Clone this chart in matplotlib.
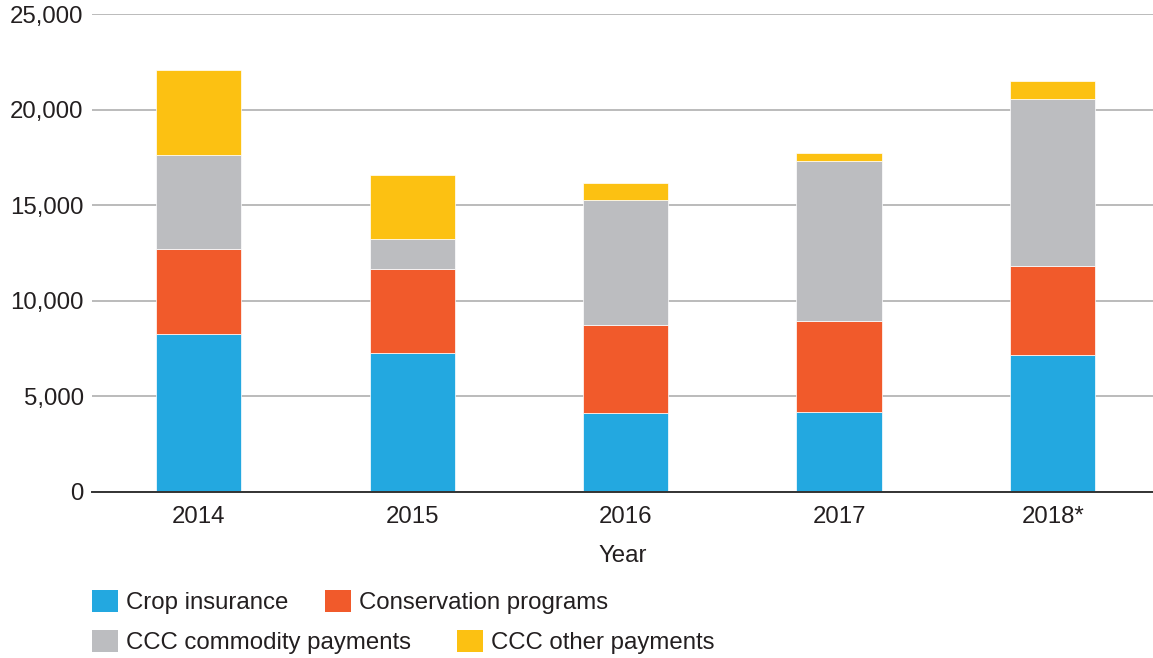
import matplotlib
matplotlib.use("Agg")
import matplotlib.pyplot as plt
import numpy as np

plt.rcParams['font.family'] = ['Liberation Sans', 'DejaVu Sans']

years = ["2014", "2015", "2016", "2017", "2018*"]
crop_insurance = [8240, 7260, 4150, 4200, 7160]
conservation = [4450, 4380, 4580, 4740, 4670]
ccc_commodity = [4940, 1590, 6560, 8370, 8730]
ccc_other = [4430, 3350, 890, 420, 960]

series_names = ["Crop insurance", "Conservation programs",
                "CCC commodity payments", "CCC other payments"]
series_values = [crop_insurance, conservation, ccc_commodity, ccc_other]
colors = ["#23A8E0", "#F15A2B", "#BCBDC0", "#FCC112"]

W, H = 1153, 658
fig = plt.figure(figsize=(W / 100, H / 100), dpi=100)
ax = fig.add_axes([92 / W, 1 - 492 / H, 1 - 92 / W, (492 - 14) / H])

x = np.arange(len(years))
bottom = np.zeros(len(years))
containers = []
for name, vals, col in zip(series_names, series_values, colors):
    c = ax.bar(x, vals, width=0.4, bottom=bottom, color=col,
               edgecolor="white", linewidth=0.5, label=name, zorder=3)
    containers.append(c)
    bottom = bottom + np.array(vals)

ax.set_xlim(-0.5, 4.47)
ax.set_ylim(0, 25000)
ticks = [0, 5000, 10000, 15000, 20000, 25000]
ax.set_yticks(ticks)
ax.set_yticklabels([f"{t:,}" for t in ticks])
ax.set_xticks(x)
ax.set_xticklabels(years)
ax.yaxis.grid(True, color="#B5B5B5", linewidth=1.3, zorder=0)
ax.set_axisbelow(True)
for s in ["top", "right", "left"]:
    ax.spines[s].set_visible(False)
ax.spines["bottom"].set_color("#333333")
ax.spines["bottom"].set_linewidth(1.4)
ax.spines["bottom"].set_zorder(4)
ax.tick_params(axis="both", length=0, labelsize=17.3, colors="#231F20")
ax.tick_params(axis="y", pad=6)
ax.tick_params(axis="x", pad=10)
ax.set_xlabel("Year", fontsize=17.3, color="#231F20", labelpad=12)

# legend items placed in a flow layout
positions = [(92, 602), (325, 602), (92, 642), (457, 642)]
for cont, name, (px, py) in zip(containers, series_names, positions):
    leg = fig.legend([cont], [name], loc="center left",
                     bbox_to_anchor=(px / W, 1 - py / H),
                     bbox_transform=fig.transFigure, frameon=False,
                     fontsize=17.3, handlelength=1.1, handleheight=1.0,
                     handletextpad=0.3, borderpad=0, borderaxespad=0,
                     labelcolor="#231F20")
    for p in leg.get_patches():
        p.set_edgecolor("none")

fig.savefig("out.png", dpi=100)
